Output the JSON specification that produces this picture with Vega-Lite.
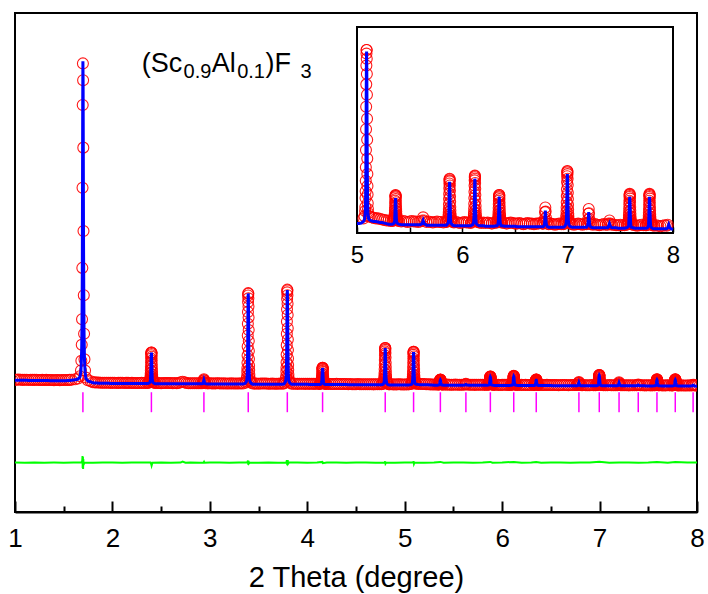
{
"$schema":"https://vega.github.io/schema/vega-lite/v6.json",
"width":682,"height":499,
"autosize":{"type":"none"},
"padding":{"left":15,"top":13,"right":11,"bottom":82},
"background":"white",
"config":{"view":{"stroke":"black","strokeWidth":2},"font":"Liberation Sans"},
"datasets":{
"p":[
{"x":1.00,"c":132.0,"o":132.6},{"x":1.02,"c":132.0,"o":132.5},{"x":1.04,"c":132.0,"o":132.7},{"x":1.06,"c":131.9,"o":132.5},{"x":1.08,"c":131.9,"o":132.4},{"x":1.10,"c":131.9,"o":132.6},{"x":1.12,"c":131.9,"o":132.5},{"x":1.14,"c":131.8,"o":132.3},{"x":1.16,"c":131.8,"o":132.5},{"x":1.18,"c":131.8,"o":132.4},{"x":1.20,"c":131.8,"o":132.4},{"x":1.22,"c":131.8,"o":132.6},{"x":1.24,"c":131.8,"o":132.3},{"x":1.26,"c":131.7,"o":132.3},{"x":1.28,"c":131.7,"o":132.4},{"x":1.30,"c":131.7,"o":132.2},{"x":1.32,"c":131.7,"o":132.4},{"x":1.34,"c":131.7,"o":132.3},{"x":1.36,"c":131.6,"o":132.2},{"x":1.38,"c":131.6,"o":132.3},{"x":1.40,"c":131.6,"o":132.1},{"x":1.42,"c":131.6,"o":132.2},{"x":1.44,"c":131.6,"o":132.3},{"x":1.46,"c":131.6,"o":132.1},{"x":1.48,"c":131.6,"o":132.2},{"x":1.50,"c":131.6,"o":132.2},{"x":1.52,"c":131.6,"o":132.3},{"x":1.54,"c":131.7,"o":132.3},{"x":1.56,"c":131.8,"o":132.4},{"x":1.58,"c":132.0,"o":132.6},
{"x":1.617,"c":132.4,"o":133.0},{"x":1.647,"c":133.2,"o":133.8},{"x":1.667,"c":135.5,"o":136.1},{"x":1.677,"c":141.2,"o":141.8},{"x":1.681,"c":150.9,"o":151.5},{"x":1.685,"c":166.9,"o":167.5},{"x":1.688,"c":192.6,"o":193.2},{"x":1.691,"c":244.0,"o":244.6},{"x":1.693,"c":324.2,"o":324.8},{"x":1.695,"c":407.2,"o":407.8},{"x":1.697,"c":451.7,"o":449.5},{"x":1.699,"c":432.1,"o":432.7},{"x":1.701,"c":364.5,"o":365.1},{"x":1.703,"c":280.9,"o":281.5},{"x":1.706,"c":216.6,"o":217.2},{"x":1.709,"c":178.1,"o":178.7},{"x":1.713,"c":152.4,"o":153.0},{"x":1.719,"c":141.1,"o":141.7},{"x":1.727,"c":134.1,"o":134.7},{"x":1.747,"c":131.4,"o":132.0},{"x":1.777,"c":130.4,"o":131.0},
{"x":1.80,"c":129.4,"o":130.0},{"x":1.82,"c":129.3,"o":129.9},{"x":1.84,"c":129.2,"o":129.8},{"x":1.86,"c":129.1,"o":129.7},{"x":1.88,"c":129.0,"o":129.6},{"x":1.90,"c":129.0,"o":129.6},{"x":1.92,"c":128.9,"o":129.5},{"x":1.94,"c":128.9,"o":129.5},{"x":1.96,"c":128.9,"o":129.5},{"x":1.98,"c":128.8,"o":129.4},
{"x":2.00,"c":128.8,"o":129.4},{"x":2.02,"c":128.8,"o":129.5},{"x":2.04,"c":128.8,"o":129.3},{"x":2.06,"c":128.8,"o":129.4},{"x":2.08,"c":128.8,"o":129.4},{"x":2.10,"c":128.8,"o":129.5},{"x":2.12,"c":128.8,"o":129.3},{"x":2.14,"c":128.8,"o":129.4},{"x":2.16,"c":128.8,"o":129.4},{"x":2.18,"c":128.7,"o":129.3},{"x":2.20,"c":128.7,"o":129.4},{"x":2.22,"c":128.7,"o":129.3},{"x":2.24,"c":128.7,"o":129.2},{"x":2.26,"c":128.7,"o":129.3},{"x":2.28,"c":128.7,"o":129.3},{"x":2.30,"c":128.7,"o":129.4},{"x":2.32,"c":128.7,"o":129.3},{"x":2.34,"c":128.7,"o":129.2},{"x":2.36,"c":128.7,"o":129.3},
{"x":2.370,"c":128.9,"o":129.5},{"x":2.380,"c":129.4,"o":130.0},{"x":2.386,"c":130.3,"o":130.9},{"x":2.388,"c":131.1,"o":131.7},{"x":2.390,"c":132.6,"o":133.2},{"x":2.391,"c":133.9,"o":134.5},{"x":2.392,"c":135.7,"o":136.3},{"x":2.393,"c":138.2,"o":138.8},{"x":2.394,"c":141.3,"o":141.9},{"x":2.395,"c":145.0,"o":145.6},{"x":2.396,"c":149.1,"o":149.7},{"x":2.397,"c":153.1,"o":153.7},{"x":2.398,"c":156.5,"o":157.1},{"x":2.399,"c":158.7,"o":159.3},{"x":2.400,"c":159.6,"o":159.9},{"x":2.4005,"c":159.3,"o":159.9},{"x":2.4015,"c":157.7,"o":158.3},{"x":2.4025,"c":155.0,"o":155.6},{"x":2.4035,"c":151.2,"o":151.8},{"x":2.4045,"c":146.9,"o":147.5},{"x":2.4055,"c":143.2,"o":143.8},{"x":2.4065,"c":139.8,"o":140.4},{"x":2.4075,"c":137.0,"o":137.6},{"x":2.4085,"c":134.8,"o":135.4},{"x":2.4095,"c":133.3,"o":133.9},{"x":2.411,"c":131.7,"o":132.3},{"x":2.413,"c":130.6,"o":131.2},{"x":2.416,"c":129.8,"o":130.4},{"x":2.420,"c":129.4,"o":130.0},{"x":2.430,"c":128.9,"o":129.5},
{"x":2.44,"c":128.6,"o":129.2},{"x":2.46,"c":128.6,"o":129.3},{"x":2.48,"c":128.6,"o":129.2},{"x":2.50,"c":128.6,"o":129.1},{"x":2.52,"c":128.6,"o":129.2},{"x":2.54,"c":128.6,"o":129.3},{"x":2.56,"c":128.6,"o":129.2},{"x":2.58,"c":128.6,"o":129.2},{"x":2.60,"c":128.6,"o":129.3},{"x":2.62,"c":128.5,"o":129.1},{"x":2.64,"c":128.5,"o":129.2},{"x":2.66,"c":128.5,"o":129.1},{"x":2.68,"c":128.5,"o":129.3},{"x":2.70,"c":128.5,"o":130.0},{"x":2.72,"c":128.5,"o":130.6},{"x":2.74,"c":128.5,"o":129.9},{"x":2.76,"c":128.5,"o":129.2},{"x":2.78,"c":128.5,"o":129.1},{"x":2.80,"c":128.5,"o":129.1},{"x":2.82,"c":128.4,"o":129.0},{"x":2.84,"c":128.4,"o":129.1},{"x":2.86,"c":128.4,"o":129.0},{"x":2.88,"c":128.4,"o":129.0},{"x":2.90,"c":128.4,"o":129.1},
{"x":2.919,"c":128.4,"o":129.0},{"x":2.929,"c":128.8,"o":129.4},{"x":2.933,"c":129.6,"o":130.2},{"x":2.936,"c":131.2,"o":131.8},{"x":2.939,"c":132.3,"o":132.9},{"x":2.942,"c":131.3,"o":131.9},{"x":2.945,"c":129.7,"o":130.3},{"x":2.949,"c":128.9,"o":129.5},{"x":2.959,"c":128.4,"o":129.0},
{"x":2.98,"c":128.3,"o":128.9},{"x":3.00,"c":128.3,"o":129.0},{"x":3.02,"c":128.3,"o":128.9},{"x":3.04,"c":128.3,"o":128.8},{"x":3.06,"c":128.3,"o":128.9},{"x":3.08,"c":128.3,"o":129.0},{"x":3.10,"c":128.3,"o":128.9},{"x":3.12,"c":128.2,"o":128.8},{"x":3.14,"c":128.2,"o":128.9},{"x":3.16,"c":128.2,"o":128.8},{"x":3.18,"c":128.2,"o":128.7},{"x":3.20,"c":128.2,"o":128.8},{"x":3.22,"c":128.2,"o":128.9},{"x":3.24,"c":128.2,"o":128.8},{"x":3.26,"c":128.2,"o":128.8},{"x":3.28,"c":128.2,"o":128.7},{"x":3.30,"c":128.2,"o":128.8},{"x":3.32,"c":128.2,"o":128.9},{"x":3.34,"c":128.2,"o":128.8},
{"x":3.364,"c":129.0,"o":129.6},{"x":3.374,"c":130.3,"o":130.9},{"x":3.380,"c":133.0,"o":133.6},{"x":3.382,"c":135.3,"o":135.9},{"x":3.384,"c":139.8,"o":140.4},{"x":3.385,"c":143.5,"o":144.1},{"x":3.386,"c":148.9,"o":149.5},{"x":3.387,"c":156.2,"o":156.8},{"x":3.388,"c":165.3,"o":165.9},{"x":3.389,"c":176.2,"o":176.8},{"x":3.390,"c":188.1,"o":188.7},{"x":3.391,"c":199.9,"o":200.5},{"x":3.392,"c":209.9,"o":210.5},{"x":3.393,"c":216.3,"o":216.9},{"x":3.394,"c":219.0,"o":219.3},{"x":3.3945,"c":218.1,"o":218.7},{"x":3.3955,"c":213.5,"o":214.1},{"x":3.3965,"c":205.4,"o":206.0},{"x":3.3975,"c":194.4,"o":195.0},{"x":3.3985,"c":181.7,"o":182.3},{"x":3.3995,"c":170.8,"o":171.4},{"x":3.4005,"c":160.8,"o":161.4},{"x":3.4015,"c":152.6,"o":153.2},{"x":3.4025,"c":146.2,"o":146.8},{"x":3.4035,"c":141.7,"o":142.3},{"x":3.405,"c":137.1,"o":137.7},{"x":3.407,"c":133.9,"o":134.5},{"x":3.410,"c":131.6,"o":132.2},{"x":3.414,"c":130.3,"o":130.9},{"x":3.424,"c":129.0,"o":129.6},
{"x":3.44,"c":128.1,"o":128.7},{"x":3.46,"c":128.1,"o":128.8},{"x":3.48,"c":128.1,"o":128.7},{"x":3.50,"c":128.1,"o":128.6},{"x":3.52,"c":128.1,"o":128.7},{"x":3.54,"c":128.1,"o":128.8},{"x":3.56,"c":128.1,"o":128.7},{"x":3.58,"c":128.1,"o":128.7},{"x":3.60,"c":128.1,"o":128.6},{"x":3.62,"c":128.0,"o":128.6},{"x":3.64,"c":128.0,"o":128.7},{"x":3.66,"c":128.0,"o":128.6},{"x":3.68,"c":128.0,"o":128.5},{"x":3.70,"c":128.0,"o":128.6},{"x":3.72,"c":128.0,"o":128.7},{"x":3.74,"c":128.0,"o":128.6},{"x":3.76,"c":128.1,"o":128.7},
{"x":3.765,"c":128.8,"o":129.4},{"x":3.775,"c":130.2,"o":130.8},{"x":3.781,"c":133.0,"o":133.6},{"x":3.783,"c":135.4,"o":136.0},{"x":3.785,"c":140.1,"o":140.7},{"x":3.786,"c":143.9,"o":144.5},{"x":3.787,"c":149.5,"o":150.1},{"x":3.788,"c":157.1,"o":157.7},{"x":3.789,"c":166.6,"o":167.2},{"x":3.790,"c":177.9,"o":178.5},{"x":3.791,"c":190.2,"o":190.8},{"x":3.792,"c":202.5,"o":203.1},{"x":3.793,"c":212.9,"o":213.5},{"x":3.794,"c":219.5,"o":220.1},{"x":3.795,"c":222.3,"o":222.8},{"x":3.7955,"c":221.4,"o":222.0},{"x":3.7965,"c":216.6,"o":217.2},{"x":3.7975,"c":208.1,"o":208.7},{"x":3.7985,"c":196.8,"o":197.4},{"x":3.7995,"c":183.6,"o":184.2},{"x":3.8005,"c":172.2,"o":172.8},{"x":3.8015,"c":161.8,"o":162.4},{"x":3.8025,"c":153.3,"o":153.9},{"x":3.8035,"c":146.7,"o":147.3},{"x":3.8045,"c":142.0,"o":142.6},{"x":3.806,"c":137.3,"o":137.9},{"x":3.808,"c":133.9,"o":134.5},{"x":3.811,"c":131.6,"o":132.2},{"x":3.815,"c":130.2,"o":130.8},{"x":3.825,"c":128.8,"o":129.4},
{"x":3.84,"c":127.9,"o":128.5},{"x":3.86,"c":127.9,"o":128.6},{"x":3.88,"c":127.9,"o":128.5},{"x":3.90,"c":127.9,"o":128.4},{"x":3.92,"c":127.9,"o":128.5},{"x":3.94,"c":127.9,"o":128.6},{"x":3.96,"c":127.9,"o":128.5},{"x":3.98,"c":127.9,"o":128.4},{"x":4.00,"c":127.9,"o":128.5},{"x":4.02,"c":127.8,"o":128.4},{"x":4.04,"c":127.8,"o":128.5},{"x":4.06,"c":127.8,"o":128.4},{"x":4.08,"c":127.8,"o":128.4},{"x":4.10,"c":127.8,"o":128.5},{"x":4.12,"c":127.8,"o":128.4},
{"x":4.127,"c":127.8,"o":128.4},{"x":4.137,"c":128.0,"o":128.6},{"x":4.143,"c":128.5,"o":129.1},{"x":4.145,"c":128.9,"o":129.5},{"x":4.147,"c":129.8,"o":130.4},{"x":4.148,"c":130.4,"o":131.0},{"x":4.149,"c":131.4,"o":132.0},{"x":4.150,"c":132.7,"o":133.3},{"x":4.151,"c":134.4,"o":135.0},{"x":4.152,"c":136.4,"o":137.0},{"x":4.153,"c":138.5,"o":139.1},{"x":4.154,"c":140.6,"o":141.2},{"x":4.155,"c":142.5,"o":143.1},{"x":4.156,"c":143.6,"o":144.2},{"x":4.157,"c":144.1,"o":144.6},{"x":4.1575,"c":143.9,"o":144.5},{"x":4.1585,"c":143.1,"o":143.7},{"x":4.1595,"c":141.6,"o":142.2},{"x":4.1605,"c":139.7,"o":140.3},{"x":4.1615,"c":137.3,"o":137.9},{"x":4.1625,"c":135.4,"o":136.0},{"x":4.1635,"c":133.5,"o":134.1},{"x":4.1645,"c":132.1,"o":132.7},{"x":4.1655,"c":130.9,"o":131.5},{"x":4.1665,"c":130.1,"o":130.7},{"x":4.168,"c":129.3,"o":129.9},{"x":4.170,"c":128.7,"o":129.3},{"x":4.173,"c":128.3,"o":128.9},{"x":4.177,"c":128.0,"o":128.6},{"x":4.187,"c":127.8,"o":128.4},
{"x":4.20,"c":127.7,"o":128.3},{"x":4.22,"c":127.7,"o":128.4},{"x":4.24,"c":127.7,"o":128.3},{"x":4.26,"c":127.7,"o":128.2},{"x":4.28,"c":127.7,"o":128.3},{"x":4.30,"c":127.7,"o":128.4},{"x":4.32,"c":127.7,"o":128.3},{"x":4.34,"c":127.7,"o":128.3},{"x":4.36,"c":127.7,"o":128.2},{"x":4.38,"c":127.7,"o":128.3},{"x":4.40,"c":127.7,"o":128.3},{"x":4.42,"c":127.5,"o":128.1},{"x":4.44,"c":127.5,"o":128.2},{"x":4.46,"c":127.5,"o":128.1},{"x":4.48,"c":127.5,"o":128.0},{"x":4.50,"c":127.5,"o":128.1},{"x":4.52,"c":127.5,"o":128.2},{"x":4.54,"c":127.5,"o":128.1},{"x":4.56,"c":127.5,"o":128.1},{"x":4.58,"c":127.5,"o":128.0},{"x":4.60,"c":127.5,"o":128.1},{"x":4.62,"c":127.4,"o":128.0},{"x":4.64,"c":127.4,"o":128.1},{"x":4.66,"c":127.4,"o":128.0},{"x":4.68,"c":127.4,"o":127.9},{"x":4.70,"c":127.4,"o":128.0},{"x":4.72,"c":127.4,"o":128.1},{"x":4.74,"c":127.4,"o":128.0},{"x":4.76,"c":127.4,"o":128.0},
{"x":4.770,"c":127.7,"o":128.3},{"x":4.780,"c":128.2,"o":128.8},{"x":4.786,"c":129.3,"o":129.9},{"x":4.788,"c":130.2,"o":130.8},{"x":4.790,"c":132.1,"o":132.7},{"x":4.791,"c":133.6,"o":134.2},{"x":4.792,"c":135.8,"o":136.4},{"x":4.793,"c":138.7,"o":139.3},{"x":4.794,"c":142.4,"o":143.0},{"x":4.795,"c":146.8,"o":147.4},{"x":4.796,"c":151.6,"o":152.2},{"x":4.797,"c":156.4,"o":157.0},{"x":4.798,"c":160.4,"o":161.0},{"x":4.799,"c":163.0,"o":163.6},{"x":4.800,"c":164.1,"o":164.4},{"x":4.8005,"c":163.7,"o":164.3},{"x":4.8015,"c":161.9,"o":162.5},{"x":4.8025,"c":158.6,"o":159.2},{"x":4.8035,"c":154.2,"o":154.8},{"x":4.8045,"c":149.0,"o":149.6},{"x":4.8055,"c":144.6,"o":145.2},{"x":4.8065,"c":140.6,"o":141.2},{"x":4.8075,"c":137.2,"o":137.8},{"x":4.8085,"c":134.7,"o":135.3},{"x":4.8095,"c":132.8,"o":133.4},{"x":4.811,"c":131.0,"o":131.6},{"x":4.813,"c":129.7,"o":130.3},{"x":4.816,"c":128.8,"o":129.4},{"x":4.820,"c":128.2,"o":128.8},{"x":4.830,"c":127.7,"o":128.3},
{"x":4.84,"c":127.3,"o":127.9},{"x":4.86,"c":127.3,"o":128.0},{"x":4.88,"c":127.3,"o":127.9},{"x":4.90,"c":127.3,"o":127.8},{"x":4.92,"c":127.3,"o":127.9},{"x":4.94,"c":127.3,"o":128.0},{"x":4.96,"c":127.3,"o":127.9},{"x":4.98,"c":127.3,"o":127.8},{"x":5.00,"c":127.2,"o":127.8},{"x":5.02,"c":127.2,"o":127.9},{"x":5.04,"c":127.3,"o":127.9},
{"x":5.061,"c":127.6,"o":128.2},{"x":5.071,"c":128.0,"o":128.6},{"x":5.077,"c":129.0,"o":129.6},{"x":5.079,"c":129.8,"o":130.4},{"x":5.081,"c":131.5,"o":132.1},{"x":5.082,"c":132.8,"o":133.4},{"x":5.083,"c":134.8,"o":135.4},{"x":5.084,"c":137.4,"o":138.0},{"x":5.085,"c":140.7,"o":141.3},{"x":5.086,"c":144.7,"o":145.3},{"x":5.087,"c":149.0,"o":149.6},{"x":5.088,"c":153.3,"o":153.9},{"x":5.089,"c":156.9,"o":157.5},{"x":5.090,"c":159.2,"o":159.8},{"x":5.091,"c":160.2,"o":160.5},{"x":5.0915,"c":159.9,"o":160.5},{"x":5.0925,"c":158.2,"o":158.8},{"x":5.0935,"c":155.3,"o":155.9},{"x":5.0945,"c":151.3,"o":151.9},{"x":5.0955,"c":146.7,"o":147.3},{"x":5.0965,"c":142.7,"o":143.3},{"x":5.0975,"c":139.1,"o":139.7},{"x":5.0985,"c":136.1,"o":136.7},{"x":5.0995,"c":133.8,"o":134.4},{"x":5.1005,"c":132.2,"o":132.8},{"x":5.102,"c":130.5,"o":131.1},{"x":5.104,"c":129.4,"o":130.0},{"x":5.107,"c":128.6,"o":129.2},{"x":5.111,"c":128.1,"o":128.7},{"x":5.121,"c":127.9,"o":128.5},
{"x":5.14,"c":127.7,"o":128.4},{"x":5.16,"c":127.6,"o":128.3},{"x":5.18,"c":127.6,"o":128.2},{"x":5.20,"c":127.5,"o":128.2},{"x":5.22,"c":127.4,"o":128.1},{"x":5.24,"c":127.4,"o":128.0},{"x":5.26,"c":127.3,"o":127.9},{"x":5.28,"c":127.2,"o":127.8},{"x":5.30,"c":127.1,"o":127.8},{"x":5.32,"c":127.1,"o":127.7},
{"x":5.336,"c":127.1,"o":127.7},{"x":5.346,"c":127.2,"o":127.8},{"x":5.352,"c":127.3,"o":127.9},{"x":5.354,"c":127.5,"o":128.1},{"x":5.356,"c":127.7,"o":128.3},{"x":5.357,"c":127.9,"o":128.5},{"x":5.358,"c":128.2,"o":128.8},{"x":5.359,"c":128.6,"o":129.2},{"x":5.360,"c":129.1,"o":129.7},{"x":5.361,"c":129.7,"o":130.3},{"x":5.362,"c":130.4,"o":131.0},{"x":5.363,"c":131.0,"o":131.6},{"x":5.364,"c":131.6,"o":132.2},{"x":5.365,"c":131.9,"o":132.5},{"x":5.366,"c":132.1,"o":132.7},{"x":5.3665,"c":132.0,"o":132.6},{"x":5.3675,"c":131.8,"o":132.4},{"x":5.3685,"c":131.3,"o":131.9},{"x":5.3695,"c":130.7,"o":131.3},{"x":5.3705,"c":130.0,"o":130.6},{"x":5.3715,"c":129.4,"o":130.0},{"x":5.3725,"c":128.9,"o":129.5},{"x":5.3735,"c":128.4,"o":129.0},{"x":5.3745,"c":128.1,"o":128.7},{"x":5.3755,"c":127.8,"o":128.4},{"x":5.377,"c":127.6,"o":128.2},{"x":5.379,"c":127.4,"o":128.0},{"x":5.382,"c":127.3,"o":127.9},{"x":5.386,"c":127.2,"o":127.8},{"x":5.396,"c":127.1,"o":127.7},
{"x":5.42,"c":127.0,"o":127.6},{"x":5.44,"c":127.0,"o":127.7},{"x":5.46,"c":127.0,"o":127.6},{"x":5.48,"c":127.0,"o":127.5},{"x":5.50,"c":127.0,"o":127.6},{"x":5.52,"c":127.0,"o":127.7},{"x":5.54,"c":127.0,"o":127.6},{"x":5.56,"c":127.0,"o":127.6},{"x":5.58,"c":127.0,"o":127.5},{"x":5.60,"c":127.0,"o":127.6},
{"x":5.618,"c":127.2,"o":127.8},{"x":5.628,"c":127.8,"o":128.4},{"x":5.638,"c":127.2,"o":127.8},
{"x":5.66,"c":126.9,"o":127.5},{"x":5.68,"c":126.9,"o":127.6},{"x":5.70,"c":126.9,"o":127.5},{"x":5.72,"c":126.9,"o":127.4},{"x":5.74,"c":126.9,"o":127.5},{"x":5.76,"c":126.9,"o":127.6},{"x":5.78,"c":126.9,"o":127.5},{"x":5.80,"c":126.9,"o":127.5},{"x":5.82,"c":126.9,"o":127.4},{"x":5.84,"c":126.9,"o":127.5},
{"x":5.849,"c":126.9,"o":127.5},{"x":5.859,"c":127.1,"o":127.7},{"x":5.865,"c":127.3,"o":127.9},{"x":5.867,"c":127.5,"o":128.1},{"x":5.869,"c":127.9,"o":128.5},{"x":5.870,"c":128.3,"o":128.9},{"x":5.871,"c":128.8,"o":129.4},{"x":5.872,"c":129.4,"o":130.0},{"x":5.873,"c":130.3,"o":130.9},{"x":5.874,"c":131.3,"o":131.9},{"x":5.875,"c":132.3,"o":132.9},{"x":5.876,"c":133.4,"o":134.0},{"x":5.877,"c":134.3,"o":134.9},{"x":5.878,"c":134.9,"o":135.5},{"x":5.879,"c":135.2,"o":135.8},{"x":5.8795,"c":135.1,"o":135.7},{"x":5.8805,"c":134.7,"o":135.3},{"x":5.8815,"c":133.9,"o":134.5},{"x":5.8825,"c":132.9,"o":133.5},{"x":5.8835,"c":131.8,"o":132.4},{"x":5.8845,"c":130.8,"o":131.4},{"x":5.8855,"c":129.8,"o":130.4},{"x":5.8865,"c":129.1,"o":129.7},{"x":5.8875,"c":128.5,"o":129.1},{"x":5.8885,"c":128.1,"o":128.7},{"x":5.890,"c":127.7,"o":128.3},{"x":5.892,"c":127.4,"o":128.0},{"x":5.895,"c":127.2,"o":127.8},{"x":5.899,"c":127.1,"o":127.7},{"x":5.909,"c":126.9,"o":127.5},
{"x":5.92,"c":126.8,"o":127.4},{"x":5.94,"c":126.8,"o":127.5},{"x":5.96,"c":126.8,"o":127.4},{"x":5.98,"c":126.8,"o":127.3},{"x":6.00,"c":126.8,"o":127.4},{"x":6.02,"c":126.8,"o":127.5},{"x":6.04,"c":126.8,"o":127.4},{"x":6.06,"c":126.8,"o":127.4},{"x":6.08,"c":126.8,"o":127.3},
{"x":6.089,"c":126.9,"o":127.5},{"x":6.099,"c":127.0,"o":127.6},{"x":6.105,"c":127.3,"o":127.9},{"x":6.107,"c":127.5,"o":128.1},{"x":6.109,"c":127.9,"o":128.5},{"x":6.110,"c":128.3,"o":128.9},{"x":6.111,"c":128.8,"o":129.4},{"x":6.112,"c":129.5,"o":130.1},{"x":6.113,"c":130.4,"o":131.0},{"x":6.114,"c":131.5,"o":132.1},{"x":6.115,"c":132.7,"o":133.3},{"x":6.116,"c":133.9,"o":134.5},{"x":6.117,"c":134.9,"o":135.5},{"x":6.118,"c":135.5,"o":136.1},{"x":6.119,"c":135.8,"o":136.4},{"x":6.1195,"c":135.7,"o":136.3},{"x":6.1205,"c":135.2,"o":135.8},{"x":6.1215,"c":134.4,"o":135.0},{"x":6.1225,"c":133.3,"o":133.9},{"x":6.1235,"c":132.1,"o":132.7},{"x":6.1245,"c":131.0,"o":131.6},{"x":6.1255,"c":130.0,"o":130.6},{"x":6.1265,"c":129.2,"o":129.8},{"x":6.1275,"c":128.6,"o":129.2},{"x":6.1285,"c":128.1,"o":128.7},{"x":6.130,"c":127.7,"o":128.3},{"x":6.132,"c":127.3,"o":127.9},{"x":6.135,"c":127.1,"o":127.7},{"x":6.139,"c":127.0,"o":127.6},{"x":6.149,"c":126.9,"o":127.5},
{"x":6.16,"c":126.8,"o":127.4},{"x":6.18,"c":126.8,"o":127.3},{"x":6.20,"c":126.8,"o":127.4},{"x":6.22,"c":126.7,"o":127.3},{"x":6.24,"c":126.7,"o":127.4},{"x":6.26,"c":126.7,"o":127.3},{"x":6.28,"c":126.7,"o":127.2},{"x":6.30,"c":126.7,"o":127.3},
{"x":6.320,"c":126.8,"o":127.4},{"x":6.330,"c":126.8,"o":127.4},{"x":6.336,"c":127.0,"o":127.6},{"x":6.338,"c":127.1,"o":127.7},{"x":6.340,"c":127.4,"o":128.0},{"x":6.341,"c":127.6,"o":128.2},{"x":6.342,"c":127.9,"o":128.5},{"x":6.343,"c":128.4,"o":129.0},{"x":6.344,"c":128.9,"o":129.5},{"x":6.345,"c":129.6,"o":130.2},{"x":6.346,"c":130.3,"o":130.9},{"x":6.347,"c":131.0,"o":131.6},{"x":6.348,"c":131.6,"o":132.2},{"x":6.349,"c":131.9,"o":132.5},{"x":6.350,"c":132.1,"o":132.7},{"x":6.3505,"c":132.1,"o":132.7},{"x":6.3515,"c":131.8,"o":132.4},{"x":6.3525,"c":131.3,"o":131.9},{"x":6.3535,"c":130.6,"o":131.2},{"x":6.3545,"c":129.9,"o":130.5},{"x":6.3555,"c":129.2,"o":129.8},{"x":6.3565,"c":128.6,"o":129.2},{"x":6.3575,"c":128.2,"o":128.8},{"x":6.3585,"c":127.8,"o":128.4},{"x":6.3595,"c":127.5,"o":128.1},{"x":6.361,"c":127.2,"o":127.8},{"x":6.363,"c":127.1,"o":127.7},{"x":6.366,"c":126.9,"o":127.5},{"x":6.370,"c":126.8,"o":127.4},{"x":6.380,"c":126.8,"o":127.4},
{"x":6.40,"c":126.7,"o":127.3},{"x":6.42,"c":126.7,"o":127.2},{"x":6.44,"c":126.7,"o":127.3},{"x":6.46,"c":126.7,"o":127.4},{"x":6.48,"c":126.7,"o":127.3},{"x":6.50,"c":126.7,"o":127.2},{"x":6.52,"c":126.6,"o":127.2},{"x":6.54,"c":126.6,"o":127.3},{"x":6.56,"c":126.6,"o":127.2},{"x":6.58,"c":126.6,"o":127.1},{"x":6.60,"c":126.6,"o":127.2},{"x":6.62,"c":126.6,"o":127.3},{"x":6.64,"c":126.6,"o":127.2},{"x":6.66,"c":126.6,"o":127.2},{"x":6.68,"c":126.6,"o":127.1},{"x":6.70,"c":126.6,"o":127.2},{"x":6.72,"c":126.6,"o":127.2},{"x":6.74,"c":126.6,"o":127.3},{"x":6.76,"c":126.6,"o":127.2},
{"x":6.768,"c":126.6,"o":127.2},{"x":6.778,"c":126.9,"o":127.5},{"x":6.782,"c":127.5,"o":128.1},{"x":6.785,"c":128.8,"o":129.4},{"x":6.788,"c":129.7,"o":130.3},{"x":6.791,"c":128.9,"o":129.5},{"x":6.794,"c":127.7,"o":128.3},{"x":6.798,"c":127.0,"o":127.6},{"x":6.808,"c":126.6,"o":127.2},
{"x":6.82,"c":126.5,"o":127.1},{"x":6.84,"c":126.5,"o":127.2},{"x":6.86,"c":126.5,"o":127.1},{"x":6.88,"c":126.5,"o":127.0},{"x":6.90,"c":126.5,"o":127.1},{"x":6.92,"c":126.5,"o":127.2},{"x":6.94,"c":126.5,"o":127.1},{"x":6.96,"c":126.5,"o":127.1},
{"x":6.967,"c":126.6,"o":127.2},{"x":6.977,"c":126.8,"o":127.4},{"x":6.983,"c":127.1,"o":127.7},{"x":6.985,"c":127.3,"o":127.9},{"x":6.987,"c":127.8,"o":128.4},{"x":6.988,"c":128.2,"o":128.8},{"x":6.989,"c":128.9,"o":129.5},{"x":6.990,"c":129.7,"o":130.3},{"x":6.991,"c":130.7,"o":131.3},{"x":6.992,"c":131.9,"o":132.5},{"x":6.993,"c":133.2,"o":133.8},{"x":6.994,"c":134.6,"o":135.2},{"x":6.995,"c":135.7,"o":136.3},{"x":6.996,"c":136.4,"o":137.0},{"x":6.997,"c":136.7,"o":137.3},{"x":6.9975,"c":136.6,"o":137.2},{"x":6.9985,"c":136.1,"o":136.7},{"x":6.9995,"c":135.2,"o":135.8},{"x":7.0005,"c":134.0,"o":134.6},{"x":7.0015,"c":132.5,"o":133.1},{"x":7.0025,"c":131.3,"o":131.9},{"x":7.0035,"c":130.2,"o":130.8},{"x":7.0045,"c":129.3,"o":129.9},{"x":7.0055,"c":128.5,"o":129.1},{"x":7.0065,"c":128.0,"o":128.6},{"x":7.008,"c":127.5,"o":128.1},{"x":7.010,"c":127.2,"o":127.8},{"x":7.013,"c":126.9,"o":127.5},{"x":7.017,"c":126.8,"o":127.4},{"x":7.027,"c":126.6,"o":127.2},
{"x":7.04,"c":126.5,"o":127.1},{"x":7.06,"c":126.5,"o":127.0},{"x":7.08,"c":126.5,"o":127.1},{"x":7.10,"c":126.5,"o":127.2},{"x":7.12,"c":126.5,"o":127.1},{"x":7.14,"c":126.5,"o":127.0},{"x":7.16,"c":126.5,"o":127.1},
{"x":7.180,"c":126.5,"o":127.1},{"x":7.190,"c":126.8,"o":127.4},{"x":7.194,"c":127.4,"o":128.0},{"x":7.197,"c":128.5,"o":129.1},{"x":7.200,"c":129.4,"o":130.0},{"x":7.203,"c":128.6,"o":129.2},{"x":7.206,"c":127.5,"o":128.1},{"x":7.210,"c":126.9,"o":127.5},{"x":7.220,"c":126.5,"o":127.1},
{"x":7.24,"c":126.4,"o":127.0},{"x":7.26,"c":126.4,"o":127.1},{"x":7.28,"c":126.4,"o":127.0},{"x":7.30,"c":126.4,"o":126.9},{"x":7.32,"c":126.4,"o":127.0},{"x":7.34,"c":126.4,"o":127.1},{"x":7.36,"c":126.4,"o":127.0},{"x":7.38,"c":126.4,"o":127.0},
{"x":7.387,"c":126.6,"o":127.2},{"x":7.397,"c":127.2,"o":127.8},{"x":7.407,"c":126.6,"o":127.2},
{"x":7.42,"c":126.4,"o":127.0},{"x":7.44,"c":126.4,"o":127.0},{"x":7.46,"c":126.4,"o":126.9},{"x":7.48,"c":126.3,"o":126.9},{"x":7.50,"c":126.3,"o":127.0},{"x":7.52,"c":126.3,"o":126.9},{"x":7.54,"c":126.3,"o":126.9},
{"x":7.559,"c":126.4,"o":127.0},{"x":7.569,"c":126.5,"o":127.1},{"x":7.575,"c":126.6,"o":127.2},{"x":7.577,"c":126.8,"o":127.4},{"x":7.579,"c":127.1,"o":127.7},{"x":7.580,"c":127.3,"o":127.9},{"x":7.581,"c":127.7,"o":128.3},{"x":7.582,"c":128.2,"o":128.8},{"x":7.583,"c":128.8,"o":129.4},{"x":7.584,"c":129.5,"o":130.1},{"x":7.585,"c":130.3,"o":130.9},{"x":7.586,"c":131.0,"o":131.6},{"x":7.587,"c":131.7,"o":132.3},{"x":7.588,"c":132.1,"o":132.7},{"x":7.589,"c":132.3,"o":132.9},{"x":7.5895,"c":132.2,"o":132.8},{"x":7.5905,"c":131.9,"o":132.5},{"x":7.5915,"c":131.4,"o":132.0},{"x":7.5925,"c":130.7,"o":131.3},{"x":7.5935,"c":129.8,"o":130.4},{"x":7.5945,"c":129.1,"o":129.7},{"x":7.5955,"c":128.5,"o":129.1},{"x":7.5965,"c":127.9,"o":128.5},{"x":7.5975,"c":127.5,"o":128.1},{"x":7.5985,"c":127.2,"o":127.8},{"x":7.600,"c":126.9,"o":127.5},{"x":7.602,"c":126.7,"o":127.3},{"x":7.605,"c":126.5,"o":127.1},{"x":7.609,"c":126.5,"o":127.1},{"x":7.619,"c":126.4,"o":127.0},
{"x":7.64,"c":126.3,"o":126.9},{"x":7.66,"c":126.3,"o":126.8},{"x":7.68,"c":126.3,"o":126.9},{"x":7.70,"c":126.3,"o":127.0},{"x":7.72,"c":126.3,"o":126.9},{"x":7.74,"c":126.3,"o":126.9},
{"x":7.747,"c":126.3,"o":126.9},{"x":7.757,"c":126.4,"o":127.0},{"x":7.763,"c":126.6,"o":127.2},{"x":7.765,"c":126.7,"o":127.3},{"x":7.767,"c":127.0,"o":127.6},{"x":7.768,"c":127.3,"o":127.9},{"x":7.769,"c":127.6,"o":128.2},{"x":7.770,"c":128.1,"o":128.7},{"x":7.771,"c":128.7,"o":129.3},{"x":7.772,"c":129.4,"o":130.0},{"x":7.773,"c":130.2,"o":130.8},{"x":7.774,"c":131.0,"o":131.6},{"x":7.775,"c":131.7,"o":132.3},{"x":7.776,"c":132.1,"o":132.7},{"x":7.777,"c":132.3,"o":132.9},{"x":7.7775,"c":132.2,"o":132.8},{"x":7.7785,"c":131.9,"o":132.5},{"x":7.7795,"c":131.4,"o":132.0},{"x":7.7805,"c":130.6,"o":131.2},{"x":7.7815,"c":129.8,"o":130.4},{"x":7.7825,"c":129.1,"o":129.7},{"x":7.7835,"c":128.4,"o":129.0},{"x":7.7845,"c":127.9,"o":128.5},{"x":7.7855,"c":127.5,"o":128.1},{"x":7.7865,"c":127.2,"o":127.8},{"x":7.788,"c":126.9,"o":127.5},{"x":7.790,"c":126.6,"o":127.2},{"x":7.793,"c":126.5,"o":127.1},{"x":7.797,"c":126.4,"o":127.0},{"x":7.807,"c":126.3,"o":126.9},
{"x":7.82,"c":126.2,"o":126.8},{"x":7.84,"c":126.2,"o":126.9},{"x":7.86,"c":126.2,"o":126.8},{"x":7.88,"c":126.2,"o":126.7},{"x":7.90,"c":126.2,"o":126.8},{"x":7.92,"c":126.2,"o":126.9},{"x":7.94,"c":126.2,"o":126.8},
{"x":7.950,"c":126.4,"o":127.0},{"x":7.960,"c":127.0,"o":127.6},{"x":7.970,"c":126.4,"o":127.0},{"x":7.98,"c":126.2,"o":126.8},{"x":8.00,"c":126.1,"o":126.7}
],
"d":[
{"x":1.0,"d":49.5},{"x":1.1,"d":49.3},{"x":1.2,"d":49.6},{"x":1.3,"d":49.4},{"x":1.4,"d":49.5},{"x":1.5,"d":49.4},{"x":1.6,"d":49.6},{"x":1.68,"d":49.5},{"x":1.690,"d":51},{"x":1.693,"d":56},{"x":1.695,"d":44},{"x":1.697,"d":55},{"x":1.699,"d":43},{"x":1.701,"d":53},{"x":1.704,"d":47},{"x":1.71,"d":49.5},{"x":1.8,"d":49.3},{"x":1.9,"d":49.6},{"x":2.0,"d":49.5},{"x":2.1,"d":49.4},{"x":2.2,"d":49.6},{"x":2.3,"d":49.5},{"x":2.39,"d":49.5},{"x":2.398,"d":48},{"x":2.402,"d":46.5},{"x":2.41,"d":49.3},{"x":2.5,"d":49.6},{"x":2.6,"d":49.4},{"x":2.7,"d":49.5},{"x":2.72,"d":50.5},{"x":2.75,"d":49.4},{"x":2.8,"d":49.6},{"x":2.9,"d":49.4},{"x":2.935,"d":49.6},{"x":2.94,"d":50.3},{"x":2.945,"d":49.3},{"x":3.0,"d":49.5},{"x":3.1,"d":49.6},{"x":3.2,"d":49.4},{"x":3.3,"d":49.6},{"x":3.385,"d":49.5},{"x":3.391,"d":51.5},{"x":3.394,"d":47.5},{"x":3.397,"d":51.3},{"x":3.40,"d":48.5},{"x":3.41,"d":49.5},{"x":3.5,"d":49.4},{"x":3.6,"d":49.6},{"x":3.7,"d":49.4},{"x":3.785,"d":49.5},{"x":3.791,"d":52},{"x":3.795,"d":47},{"x":3.799,"d":52},{"x":3.803,"d":48.5},{"x":3.81,"d":49.5},{"x":3.9,"d":49.6},{"x":4.0,"d":49.4},{"x":4.1,"d":49.5},{"x":4.155,"d":50.2},{"x":4.16,"d":48.9},{"x":4.2,"d":49.5},{"x":4.3,"d":49.6},{"x":4.4,"d":49.4},{"x":4.5,"d":49.5},{"x":4.6,"d":49.6},{"x":4.7,"d":49.4},{"x":4.795,"d":49.5},{"x":4.799,"d":50.8},{"x":4.803,"d":48.5},{"x":4.81,"d":49.6},{"x":4.9,"d":49.4},{"x":5.0,"d":49.5},{"x":5.088,"d":49.5},{"x":5.091,"d":51},{"x":5.095,"d":48.3},{"x":5.10,"d":49.5},{"x":5.2,"d":49.4},{"x":5.3,"d":49.6},{"x":5.366,"d":50.2},{"x":5.4,"d":49.4},{"x":5.5,"d":49.5},{"x":5.6,"d":49.6},{"x":5.7,"d":49.4},{"x":5.8,"d":49.5},{"x":5.879,"d":50.2},{"x":5.9,"d":49.4},{"x":6.0,"d":49.6},{"x":6.119,"d":50.2},{"x":6.2,"d":49.4},{"x":6.3,"d":49.5},{"x":6.35,"d":50.0},{"x":6.4,"d":49.4},{"x":6.5,"d":49.6},{"x":6.6,"d":49.5},{"x":6.7,"d":49.4},{"x":6.8,"d":49.6},{"x":6.9,"d":49.5},{"x":6.997,"d":50.3},{"x":7.1,"d":49.4},{"x":7.2,"d":49.7},{"x":7.3,"d":49.5},{"x":7.4,"d":49.4},{"x":7.5,"d":49.6},{"x":7.589,"d":50.0},{"x":7.7,"d":49.4},{"x":7.777,"d":50.0},{"x":7.9,"d":49.5},{"x":8.0,"d":49.5}
],
"h":[{"x":1.697},{"x":2.400},{"x":2.939},{"x":3.394},{"x":3.795},{"x":4.157},{"x":4.800},{"x":5.091},{"x":5.366},{"x":5.628},{"x":5.879},{"x":6.119},{"x":6.350},{"x":6.788},{"x":6.997},{"x":7.200},{"x":7.397},{"x":7.589},{"x":7.777},{"x":7.960}],
"t":[
{"t":"(Sc","x":2.30,"y":441,"k":"n"},{"t":"0.9","x":2.73,"y":435,"k":"s"},{"t":"Al","x":3.02,"y":441,"k":"n"},{"t":"0.1","x":3.28,"y":435,"k":"s"},{"t":")F","x":3.57,"y":441,"k":"n"},{"t":"3","x":3.93,"y":435,"k":"s"}
]
},
"layer":[
{"layer":[
{"data":{"name":"p"},
"mark":{"type":"point","shape":"circle","filled":false,"size":120,"stroke":"#ff0000","strokeWidth":1.1,"opacity":0.9,"clip":true},
"encoding":{
"x":{"field":"x","type":"quantitative","scale":{"domain":[1,8],"nice":false,"zero":false},
"axis":{"orient":"bottom","values":[1,2,3,4,5,6,7,8],"format":"d","ticks":false,
"domainColor":"black","domainWidth":2,"grid":false,
"labelFontSize":26,"labelPadding":13,"labelFlush":false,"labelOverlap":false,"labelColor":"black","labelFont":"Liberation Sans",
"title":"2 Theta (degree)","titleFontSize":29,"titleFontWeight":"normal","titleColor":"black","titleFont":"Liberation Sans","titleY":74,"titleBaseline":"alphabetic"}},
"y":{"field":"o","type":"quantitative","scale":{"domain":[0,500],"nice":false,"zero":false},"axis":null}}},
{"data":{"name":"p"},
"mark":{"type":"line","color":"#0000ff","strokeWidth":3,"clip":true},
"encoding":{"x":{"field":"x","type":"quantitative",
"axis":{"orient":"top","offset":-499,"values":[1,2,3,4,5,6,7,8],"labels":false,"domain":false,"grid":false,"title":null,"tickSize":11,"tickWidth":2,"tickColor":"black"}},
"y":{"field":"c","type":"quantitative","axis":null}}},
{"data":{"name":"d"},
"mark":{"type":"line","color":"#00ff00","strokeWidth":2,"clip":true},
"encoding":{"x":{"field":"x","type":"quantitative",
"axis":{"orient":"top","offset":-499,"values":[1.5,2.5,3.5,4.5,5.5,6.5,7.5],"labels":false,"domain":false,"grid":false,"title":null,"tickSize":6,"tickWidth":2,"tickColor":"black"}},
"y":{"field":"d","type":"quantitative","axis":null}}},
{"data":{"name":"h"},
"mark":{"type":"rule","color":"#ff00ff","strokeWidth":1.5},
"encoding":{"x":{"field":"x","type":"quantitative","axis":null},"y":{"datum":100,"type":"quantitative","axis":null},"y2":{"datum":120}}},
{"data":{"name":"t"},
"mark":{"type":"text","align":"left","baseline":"alphabetic","font":"Liberation Sans","color":"black"},
"encoding":{"x":{"field":"x","type":"quantitative","axis":null},"y":{"field":"y","type":"quantitative","axis":null},"text":{"field":"t"},
"size":{"field":"k","type":"ordinal","scale":{"domain":["n","s"],"range":[27,20]},"legend":null}}}
],
"resolve":{"axis":{"x":"independent"}}},
{"layer":[
{"data":{"values":[{}]},
"mark":{"type":"rect","filled":false,"stroke":"black","strokeWidth":2},
"encoding":{
"x":{"datum":5,"type":"quantitative","scale":{"domain":[5,8],"range":[342,658],"nice":false,"zero":false},
"axis":{"orient":"bottom","offset":-280,"values":[5,6,7,8],"format":"d","ticks":false,"domain":false,"grid":false,
"labelFontSize":24,"labelPadding":11,"labelFlush":false,"labelOverlap":false,"labelColor":"black","labelFont":"Liberation Sans","title":null}},
"x2":{"datum":8},
"y":{"datum":125.4,"type":"quantitative","scale":{"domain":[125.4,164.9],"range":[220,14],"nice":false,"zero":false},"axis":null},
"y2":{"datum":164.9}}},
{"data":{"name":"p"},
"transform":[{"filter":"datum.x >= 5.05 && datum.x <= 7.95"}],
"mark":{"type":"point","shape":"circle","filled":false,"size":120,"stroke":"#ff0000","strokeWidth":1.1,"opacity":0.9},
"encoding":{"x":{"field":"x","type":"quantitative",
"axis":{"orient":"top","offset":-219,"values":[5,5.5,6,6.5,7,7.5,8],"labels":false,"domain":false,"grid":false,"title":null,"tickSize":5,"tickWidth":1.5,"tickColor":"black"}},
"y":{"field":"o","type":"quantitative","axis":null}}},
{"data":{"name":"p"},
"transform":[{"filter":"datum.x >= 5 && datum.x <= 8"}],
"mark":{"type":"line","color":"#0000ff","strokeWidth":3},
"encoding":{"x":{"field":"x","type":"quantitative","axis":null},"y":{"field":"c","type":"quantitative","axis":null}}}
],
"resolve":{"axis":{"x":"independent"}}}
],
"resolve":{"scale":{"x":"independent","y":"independent"}}
}
